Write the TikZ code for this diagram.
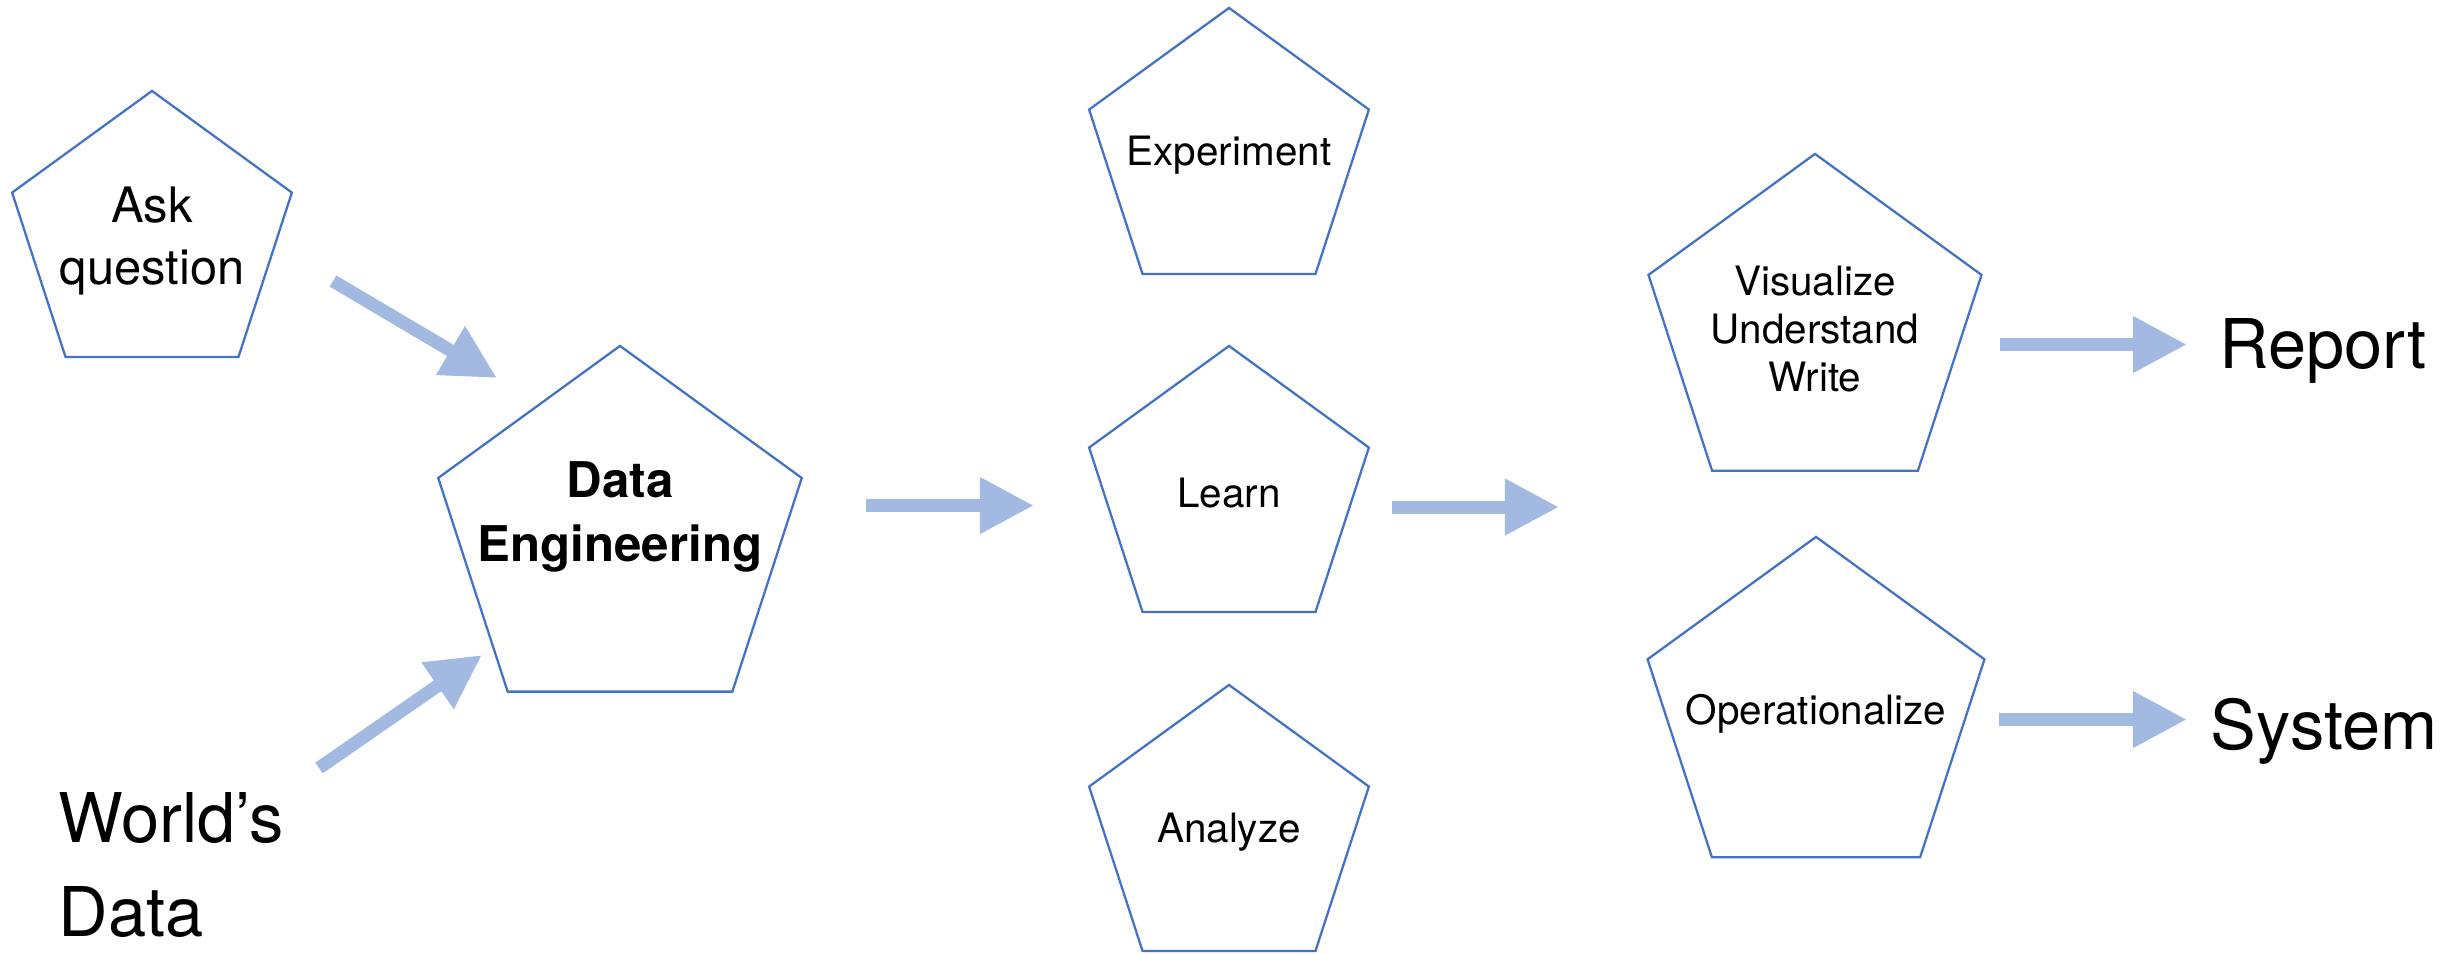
\documentclass[tikz,border=0pt]{standalone}
\usepackage{fontspec}
\setmainfont{TeX Gyre Heros}
\usetikzlibrary{arrows.meta, shapes.geometric}

\definecolor{pentblue}{RGB}{68,114,196}
\definecolor{flowblue}{RGB}{162,185,225}

\begin{document}
\begin{tikzpicture}[x=0.01cm, y=-0.01cm,
		pent/.style={regular polygon, regular polygon sides=5, draw=pentblue, line width=0.65pt, inner sep=0pt},
		txt/.style={inner sep=0pt, align=center, font=\fontsize{11.5}{13.7}\selectfont},
		flow/.style={draw=flowblue, line width=1.3mm, -{Triangle[length=5.4mm, width=5.3mm]}},
		big/.style={inner sep=0pt, font=\fontsize{19.5}{26.7}\selectfont}]
		\useasboundingbox (0,0) rectangle (2463,953);
		
		\node[pent, minimum size=2.94cm] (ask) at (152,238) {};
		\node[txt, font=\fontsize{13.9}{17.9}\selectfont] (asktext) at (152,241) {Ask\\question};
		\node[pent, minimum size=3.82cm] (de) at (620,537) {};
		\node[txt, font=\bfseries\fontsize{14}{18}\selectfont] (detext) at (620,517) {Data\\Engineering};
		
		\node[pent, minimum size=2.94cm] (exp) at (1229,155) {};
		\node[txt] (exptext) at (exp) {Experiment};
		\node[pent, minimum size=2.94cm] (learn) at (1229,493) {};
		\node[txt] (learntext) at (learn) {Learn};
		\node[pent, minimum size=2.94cm] (ana) at (1229,832) {};
		\node[txt] (anatext) at (ana) {Analyze};
		
		\node[pent, minimum size=3.5cm] (vis) at (1815,329) {};
		\node[txt] (vistext) at (vis) {Visualize\\Understand\\Write};
		\node[pent, minimum size=3.54cm] (ops) at (1816,714) {};
		\node[txt] (opstext) at (ops) {Operationalize};
		
		\node[big, anchor=north west, align=left] (world) at (58,792) {World’s\\Data};
		\node[big, anchor=base west] (report) at (2219,368) {Report};
		\node[big, anchor=base west] (system) at (2210,749) {System};
		
		% tails and tips of the block arrows
		\coordinate (q1) at (333,281);   \coordinate (q2) at (497,378);
		\coordinate (w1) at (319,768);   \coordinate (w2) at (482,655);
		\coordinate (d1) at (866,505.5); \coordinate (d2) at (1034,505.5);
		\coordinate (l1) at (1392,507);  \coordinate (l2) at (1559,507);
		\coordinate (v1) at (2000,344.5); \coordinate (v2) at (2187,344.5);
		\coordinate (o1) at (1999,719.5); \coordinate (o2) at (2187,719.5);
		
		\path (q1) edge[flow] (q2)
			(w1) edge[flow] (w2)
			(d1) edge[flow] (d2)
			(l1) edge[flow] (l2)
			(v1) edge[flow] (v2)
			(o1) edge[flow] (o2);
	\end{tikzpicture}
\end{document}
